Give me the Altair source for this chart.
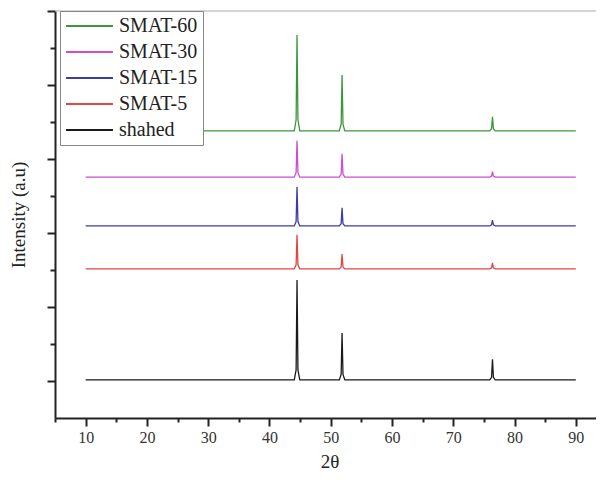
import altair as alt
import pandas as pd

# 2-theta sample positions (degrees)
two_theta = [10, 44.05, 44.35, 44.5, 44.65, 44.95, 51.4, 51.7, 51.85, 52.0, 52.3,
             75.95, 76.25, 76.4, 76.55, 76.85, 90]

# Intensities (arbitrary units, stacked offsets)
shahed = [1.03, 1.03, 1.30, 3.73, 1.30, 1.03, 1.03, 1.18, 2.30, 1.18, 1.03,
          1.03, 1.10, 1.59, 1.10, 1.03, 1.03]
smat5 = [4.03, 4.03, 4.14, 4.95, 4.14, 4.03, 4.03, 4.08, 4.43, 4.08, 4.03,
         4.03, 4.06, 4.19, 4.06, 4.03, 4.03]
smat15 = [5.19, 5.19, 5.31, 6.24, 5.31, 5.19, 5.19, 5.25, 5.68, 5.25, 5.19,
          5.19, 5.22, 5.35, 5.22, 5.19, 5.19]
smat30 = [6.51, 6.51, 6.63, 7.49, 6.63, 6.51, 6.51, 6.59, 7.14, 6.59, 6.51,
          6.51, 6.54, 6.66, 6.54, 6.51, 6.51]
smat60 = [7.76, 7.76, 8.06, 10.35, 8.06, 7.76, 7.76, 7.94, 9.27, 7.94, 7.76,
          7.76, 7.82, 8.14, 7.82, 7.76, 7.76]

series_names = ["SMAT-60", "SMAT-30", "SMAT-15", "SMAT-5", "shahed"]
series_colors = ["#3c963c", "#d04bd0", "#3c3ca8", "#e04646", "#1a1a1a"]
series_values = [smat60, smat30, smat15, smat5, shahed]

x_major = [10, 20, 30, 40, 50, 60, 70, 80, 90]
x_minor = [5, 15, 25, 35, 45, 55, 65, 75, 85]
y_major = [1, 3, 5, 7, 9, 11]
y_minor = [2, 4, 6, 8, 10]

rows = []
for name, vals in zip(series_names, series_values):
    for t, v in zip(two_theta, vals):
        rows.append({"two_theta": t, "intensity": v, "sample": name})
df = pd.DataFrame(rows)

FONT = "Liberation Serif, Times New Roman, serif"
xscale = alt.Scale(domain=[5, 94.6], range=[0, 549], nice=False, zero=False)
yscale = alt.Scale(domain=[0, 11], nice=False, zero=False)

lines = alt.Chart(df).mark_line(strokeWidth=1.3).encode(
    x=alt.X("two_theta:Q", scale=xscale,
            axis=alt.Axis(values=x_major, orient="bottom", tickSize=8, tickWidth=2,
                          tickColor="#222", domainColor="#222", domainWidth=2,
                          labelFont=FONT, labelFontSize=16, labelColor="#333",
                          labelPadding=3, grid=False, title="2θ",
                          titleFont=FONT, titleFontSize=19, titleFontWeight="normal",
                          titleColor="#222", titlePadding=7)),
    y=alt.Y("intensity:Q", scale=yscale,
            axis=alt.Axis(values=y_major, orient="left", tickSize=8, tickWidth=2,
                          tickColor="#222", domainColor="#222", domainWidth=2,
                          labels=False, grid=False, title="Intensity (a.u)",
                          titleFont=FONT, titleFontSize=19, titleFontWeight="normal",
                          titleColor="#222", titlePadding=18)),
    color=alt.Color("sample:N",
                    scale=alt.Scale(domain=series_names, range=series_colors),
                    legend=alt.Legend(title=None, orient="none", legendX=5, legendY=0,
                                      fillColor="white", strokeColor="#888",
                                      padding=5, symbolType="stroke", symbolSize=2200,
                                      symbolStrokeWidth=2, clipHeight=20, rowPadding=6,
                                      labelOffset=5, labelFont=FONT, labelFontSize=20,
                                      labelColor="#222")),
    order=alt.Order("two_theta:Q"),
)

minor = alt.Chart(df).mark_line(strokeOpacity=0).encode(
    x=alt.X("two_theta:Q", scale=xscale,
            axis=alt.Axis(values=x_minor, orient="bottom", tickSize=4, tickWidth=2,
                          tickColor="#222", domain=False, labels=False, grid=False,
                          title=None)),
    y=alt.Y("intensity:Q", scale=yscale,
            axis=alt.Axis(values=y_minor, orient="left", tickSize=5, tickWidth=2,
                          tickColor="#222", domain=False, labels=False, grid=False,
                          title=None)),
    detail="sample:N",
)

top_line = alt.Chart(pd.DataFrame({"y": [11]})).mark_rule(
    color="#aaaaaa", strokeWidth=1).encode(
    y=alt.Y("y:Q", scale=yscale, axis=None))

chart = alt.layer(top_line, minor, lines).resolve_axis(
    x="independent", y="independent"
).properties(
    width=541, height=407,
    autosize=alt.AutoSizeParams(type="none"),
    padding={"left": 47, "top": 3, "right": 0, "bottom": 55},
).configure(font=FONT).configure_view(stroke=None)

chart.save("out.html", embed_options={"renderer": "svg", "actions": False})
